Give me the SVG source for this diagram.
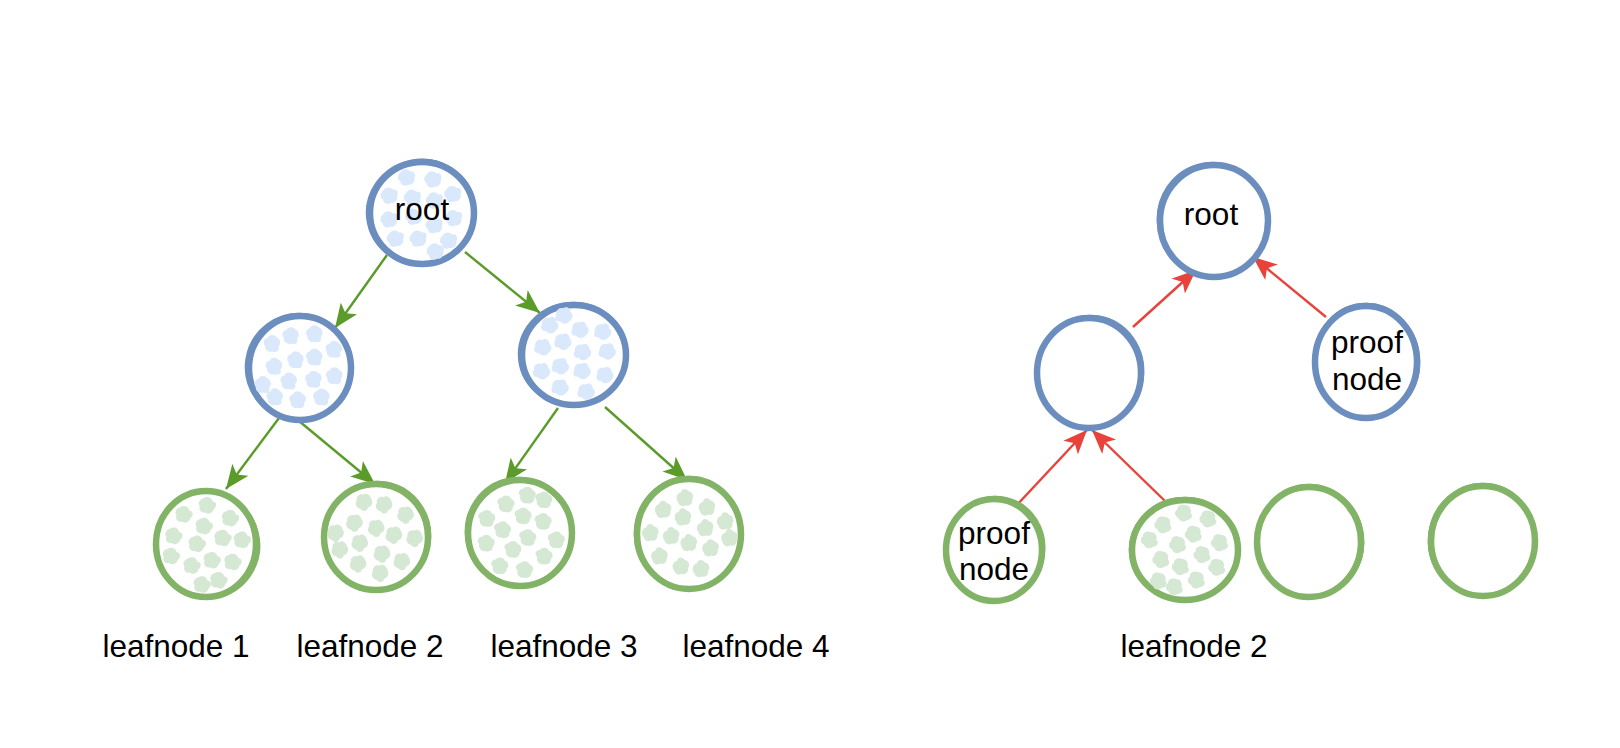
<svg xmlns="http://www.w3.org/2000/svg" xmlns:xlink="http://www.w3.org/1999/xlink" width="1620" height="748" viewBox="0 0 1620 748">
<style>
.bl{fill:#ffffff;stroke:#6c8ebf;stroke-width:6.5}
.bl2{fill:none;stroke:#6c8ebf;stroke-width:2.5}
.gr{fill:#ffffff;stroke:#82b366;stroke-width:6.5}
.gr2{fill:none;stroke:#82b366;stroke-width:2.5}
.t{font-family:"Liberation Sans",Arial,Helvetica,sans-serif;font-size:31.5px;fill:#000;text-anchor:middle}
.eg{fill:none;stroke:#5b9b2a;stroke-width:2.4}
.er{fill:none;stroke:#e8433a;stroke-width:2.4}
</style>
<defs>
<path id="blob" transform="scale(1.25)" d="M-6,-2.5 C-5,-6.5 -1,-7.5 1.5,-5.5 C3.5,-7.5 7,-5 6,-1.5 C7.5,1 6,5 2.5,5 C1,7.5 -3.5,7 -4,4 C-7.5,3.5 -7.5,-1 -6,-2.5Z"/>
<g id="dots">
<use xlink:href="#blob" x="-24" y="-30"/>
<use xlink:href="#blob" x="2" y="-35"/>
<use xlink:href="#blob" x="25" y="-26"/>
<use xlink:href="#blob" x="-36" y="-8"/>
<use xlink:href="#blob" x="-13" y="-12"/>
<use xlink:href="#blob" x="9" y="-15"/>
<use xlink:href="#blob" x="32" y="-3"/>
<use xlink:href="#blob" x="-30" y="15"/>
<use xlink:href="#blob" x="-7" y="6"/>
<use xlink:href="#blob" x="15" y="9"/>
<use xlink:href="#blob" x="33" y="20"/>
<use xlink:href="#blob" x="-19" y="32"/>
<use xlink:href="#blob" x="3" y="26"/>
<use xlink:href="#blob" x="23" y="34"/>
</g>
<marker id="ag" viewBox="0 0 24 20" refX="24" refY="10" markerWidth="24" markerHeight="20" markerUnits="userSpaceOnUse" orient="auto">
<path d="M0,0 L24,10 L0,20 L6,10 Z" fill="#5b9b2a"/>
</marker>
<marker id="ar" viewBox="0 0 24 20" refX="24" refY="10" markerWidth="24" markerHeight="20" markerUnits="userSpaceOnUse" orient="auto">
<path d="M0,0 L24,10 L0,20 L6,10 Z" fill="#e8433a"/>
</marker>
</defs>
<rect x="0" y="0" width="1620" height="748" fill="#ffffff"/>

<g id="connectors">
<line class="eg" x1="387" y1="255" x2="335" y2="328" marker-end="url(#ag)"/>
<line class="eg" x1="465" y1="252" x2="540" y2="313" marker-end="url(#ag)"/>
<line class="eg" x1="282" y1="414" x2="226" y2="489" marker-end="url(#ag)"/>
<line class="eg" x1="299" y1="421" x2="375" y2="484" marker-end="url(#ag)"/>
<line class="eg" x1="558" y1="408" x2="505" y2="483" marker-end="url(#ag)"/>
<line class="eg" x1="605" y1="407" x2="687" y2="480" marker-end="url(#ag)"/>
<line class="er" x1="1133" y1="327" x2="1196" y2="270" marker-end="url(#ar)"/>
<line class="er" x1="1326" y1="317" x2="1253" y2="257" marker-end="url(#ar)"/>
<line class="er" x1="1016" y1="506" x2="1087" y2="430" marker-end="url(#ar)"/>
<line class="er" x1="1166" y1="502" x2="1092" y2="430" marker-end="url(#ar)"/>
</g>

<g id="l-root">
<ellipse class="bl" cx="422" cy="213" rx="52" ry="51"/>
<use xlink:href="#dots" fill="#dae8fc" transform="translate(422,213) rotate(15)"/>
<ellipse class="bl2" cx="421" cy="212" rx="54" ry="52" transform="rotate(-12 421 212)"/>
<text class="t" x="422" y="220">root</text>
</g>
<g id="l-mid1">
<ellipse class="bl" cx="300" cy="368" rx="51" ry="52"/>
<use xlink:href="#dots" fill="#dae8fc" transform="translate(300,368) rotate(100)"/>
<ellipse class="bl2" cx="299" cy="367" rx="53" ry="53" transform="rotate(8 299 367)"/>
</g>
<g id="l-mid2">
<ellipse class="bl" cx="574" cy="355" rx="52" ry="50"/>
<use xlink:href="#dots" fill="#dae8fc" transform="translate(574,355) rotate(200)"/>
<ellipse class="bl2" cx="573" cy="354" rx="54" ry="51" transform="rotate(-6 573 354)"/>
</g>
<g id="l-leaf1">
<ellipse class="gr" cx="206" cy="544" rx="50" ry="53"/>
<use xlink:href="#dots" fill="#d5e8d4" transform="translate(206,544) rotate(40)"/>
<ellipse class="gr2" cx="207" cy="545" rx="52" ry="53" transform="rotate(-15 207 545)"/>
</g>
<g id="l-leaf2">
<ellipse class="gr" cx="376" cy="537" rx="52" ry="53"/>
<use xlink:href="#dots" fill="#d5e8d4" transform="translate(376,537) rotate(130)"/>
<ellipse class="gr2" cx="377" cy="536" rx="53" ry="54" transform="rotate(10 377 536)"/>
</g>
<g id="l-leaf3">
<ellipse class="gr" cx="520" cy="533" rx="52" ry="53"/>
<use xlink:href="#dots" fill="#d5e8d4" transform="translate(520,533) rotate(250)"/>
<ellipse class="gr2" cx="519" cy="532" rx="53" ry="54" transform="rotate(-10 519 532)"/>
</g>
<g id="l-leaf4">
<ellipse class="gr" cx="689" cy="534" rx="52" ry="55"/>
<use xlink:href="#dots" fill="#d5e8d4" transform="translate(689,534) rotate(310)"/>
<ellipse class="gr2" cx="688" cy="533" rx="53" ry="56" transform="rotate(6 688 533)"/>
</g>
<g id="l-labels">
<text class="t" x="176" y="657">leafnode 1</text>
<text class="t" x="370" y="657">leafnode 2</text>
<text class="t" x="564" y="657">leafnode 3</text>
<text class="t" x="756" y="657">leafnode 4</text>
</g>

<g id="r-root">
<ellipse class="bl" cx="1214" cy="221" rx="54" ry="56"/>
<ellipse class="bl2" cx="1213" cy="220" rx="55" ry="57" transform="rotate(-10 1213 220)"/>
<text class="t" x="1211" y="225">root</text>
</g>
<g id="r-mid1">
<ellipse class="bl" cx="1089" cy="373" rx="52" ry="55"/>
<ellipse class="bl2" cx="1090" cy="372" rx="53" ry="56" transform="rotate(8 1090 372)"/>
</g>
<g id="r-proof">
<ellipse class="bl" cx="1366" cy="362" rx="51" ry="56"/>
<ellipse class="bl2" cx="1367" cy="361" rx="52" ry="57" transform="rotate(-6 1367 361)"/>
<text class="t" x="1367" y="353">proof</text>
<text class="t" x="1367" y="390">node</text>
</g>
<g id="r-leafproof">
<ellipse class="gr" cx="994" cy="550" rx="48" ry="51"/>
<ellipse class="gr2" cx="995" cy="549" rx="49" ry="52" transform="rotate(12 995 549)"/>
<text class="t" x="994" y="544">proof</text>
<text class="t" x="994" y="580">node</text>
</g>
<g id="r-leaf2">
<ellipse class="gr" cx="1185" cy="550" rx="53" ry="50"/>
<use xlink:href="#dots" fill="#d5e8d4" transform="translate(1185,550) rotate(75)"/>
<ellipse class="gr2" cx="1184" cy="549" rx="54" ry="51" transform="rotate(-8 1184 549)"/>
</g>
<g id="r-leaf3">
<ellipse class="gr" cx="1309" cy="542" rx="52" ry="55"/>
<ellipse class="gr2" cx="1310" cy="541" rx="53" ry="56" transform="rotate(-10 1310 541)"/>
</g>
<g id="r-leaf4">
<ellipse class="gr" cx="1483" cy="541" rx="52" ry="55"/>
<ellipse class="gr2" cx="1482" cy="540" rx="53" ry="56" transform="rotate(8 1482 540)"/>
</g>
<g id="r-labels">
<text class="t" x="1194" y="657">leafnode 2</text>
</g>
</svg>
